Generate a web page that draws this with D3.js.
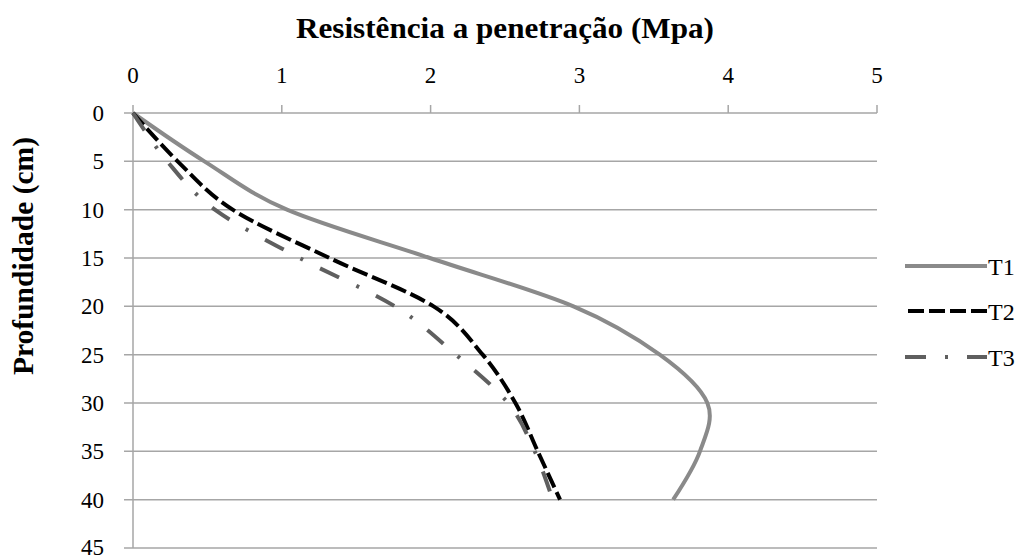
<!DOCTYPE html>
<html><head><meta charset="utf-8">
<script src="https://cdn.jsdelivr.net/npm/d3@7"></script>
</head><body style="margin:0">
<svg id="c" width="1028" height="556" font-family="Liberation Serif"></svg>
<script>
const depths = [0, 5, 10, 15, 20, 25, 30, 35, 40];
const t1 = [0, 0.48, 1.035, 1.995, 2.96, 3.54, 3.86, 3.81, 3.63];
const t2 = [0, 0.30, 0.67, 1.32, 2.02, 2.35, 2.57, 2.72, 2.87];
const t3 = [0, 0.23, 0.55, 1.12, 1.76, 2.17, 2.52, 2.70, 2.82];
const xTicks = [0, 1, 2, 3, 4, 5];
const yTicks = [0, 5, 10, 15, 20, 25, 30, 35, 40, 45];
const seriesNames = ["T1", "T2", "T3"];
const titleText = "Resistência a penetração (Mpa)";
const yTitleText = "Profundidade (cm)";

const svg = d3.select("#c");
const x = d3.scaleLinear().domain([0, 5]).range([133, 877]);
const y = d3.scaleLinear().domain([0, 45]).range([113, 548]);
const grid = "#a6a6a6";

svg.append("rect").attr("width", 1028).attr("height", 556).attr("fill", "#fff");

svg.append("g").selectAll("line").data(yTicks).join("line")
  .attr("x1", 124).attr("x2", x(5))
  .attr("y1", d => y(d)).attr("y2", d => y(d))
  .attr("stroke", grid).attr("stroke-width", 1.5);
svg.append("line").attr("x1", x(0)).attr("x2", x(0)).attr("y1", y(0)).attr("y2", y(45))
  .attr("stroke", grid).attr("stroke-width", 1.5);
svg.append("g").selectAll("line").data(xTicks).join("line")
  .attr("x1", d => x(d)).attr("x2", d => x(d)).attr("y1", 105).attr("y2", y(0))
  .attr("stroke", grid).attr("stroke-width", 1.5);

svg.append("g").selectAll("text").data(xTicks).join("text")
  .attr("x", d => x(d)).attr("y", 83).attr("text-anchor", "middle")
  .attr("font-size", 23).attr("fill", "#000").text(d => String(d));
svg.append("g").selectAll("text").data(yTicks).join("text")
  .attr("x", 104).attr("y", d => Math.min(y(d) + 8, 555)).attr("text-anchor", "end")
  .attr("font-size", 23).attr("fill", "#000").text(d => String(d));

svg.append("text").attr("x", 505).attr("y", 38).attr("text-anchor", "middle")
  .attr("font-size", 29).attr("font-weight", "bold")
  .attr("textLength", 418).attr("lengthAdjust", "spacingAndGlyphs").text(titleText);
svg.append("text").attr("transform", "translate(33,256) rotate(-90)").attr("text-anchor", "middle")
  .attr("font-size", 29).attr("font-weight", "bold")
  .attr("textLength", 238).attr("lengthAdjust", "spacingAndGlyphs").text(yTitleText);

const styles = [
  {color: "#8a8a8a", dash: null, w: 4},
  {color: "#000000", dash: "16,5", w: 4},
  {color: "#5f5f5f", dash: "21,19,3,19", w: 4}
];
const data = [t1, t2, t3];
const line = d3.line().x(d => x(d[0])).y(d => y(d[1])).curve(d3.curveCatmullRom.alpha(0));
data.forEach((vals, i) => {
  const pts = vals.map((v, j) => [v, depths[j]]);
  svg.append("path").attr("d", line(pts)).attr("fill", "none")
    .attr("stroke", styles[i].color).attr("stroke-width", styles[i].w)
    .attr("stroke-dasharray", styles[i].dash);
});

const legY = [266, 311, 357];
seriesNames.forEach((n, i) => {
  svg.append("line").attr("x1", i === 1 ? 908 : 905).attr("x2", 987)
    .attr("y1", legY[i]).attr("y2", legY[i])
    .attr("stroke", styles[i].color).attr("stroke-width", styles[i].w)
    .attr("stroke-dasharray", styles[i].dash);
  svg.append("text").attr("x", 988).attr("y", legY[i] + 9)
    .attr("font-size", 24).attr("fill", "#000").text(n);
});
</script>
</body></html>
